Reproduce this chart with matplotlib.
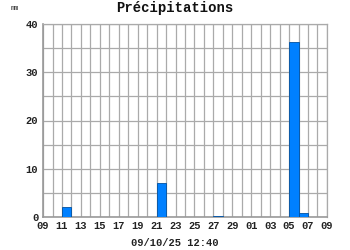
import matplotlib
matplotlib.use("Agg")
import matplotlib.pyplot as plt

# Days since 09 Sept (0 = 09/09) ; daily precipitation in mm
days = [2, 12, 18, 26, 27]
values = [2.0, 7.1, 0.2, 36.2, 0.8]
tick_labels = ["09", "11", "13", "15", "17", "19", "21", "23", "25", "27",
               "29", "01", "03", "05", "07", "09"]
y_ticks = [0, 10, 20, 30, 40]

font = "Liberation Mono"

fig = plt.figure(figsize=(3.5, 2.5), dpi=100)
ax = fig.add_axes([0.123, 0.132, 0.811, 0.772])

ax.bar(days, values, width=1.0, align="edge", color="#0080ff",
       edgecolor="#0050a0", linewidth=0.6, zorder=3)

ax.set_xlim(0, 30)
ax.set_ylim(0, 40)
ax.set_xticks(range(0, 31, 2))
ax.set_xticklabels(tick_labels)
ax.set_xticks(range(0, 31), minor=True)
ax.set_yticks(y_ticks)
ax.set_yticks(range(0, 41, 5), minor=True)
ax.grid(which="both", color="#aaaaaa", linewidth=0.9, zorder=0)
ax.tick_params(which="both", length=0)
ax.tick_params(axis="x", pad=3)
ax.tick_params(axis="y", pad=3.5)
for lab in ax.get_xticklabels() + ax.get_yticklabels():
    lab.set_fontfamily(font)
    lab.set_fontweight("bold")
    lab.set_fontsize(7.5)
    lab.set_color("#222222")

for s in ["top", "right"]:
    ax.spines[s].set_color("#aaaaaa")
    ax.spines[s].set_linewidth(0.9)
for s in ["left", "bottom"]:
    ax.spines[s].set_color("#999999")
    ax.spines[s].set_linewidth(1.2)

fig.text(0.5, 0.968, "Précipitations", ha="center", va="center",
         fontfamily=font, fontweight="bold", fontsize=10, color="#111111")
fig.text(0.03, 0.965, "mm", ha="left", va="center",
         fontfamily=font, fontsize=5, color="#333333")
fig.text(0.5, 0.028, "09/10/25 12:40", ha="center", va="center",
         fontfamily=font, fontweight="bold", fontsize=7.5, color="#222222")

fig.savefig("out.png", dpi=100, facecolor="white")
